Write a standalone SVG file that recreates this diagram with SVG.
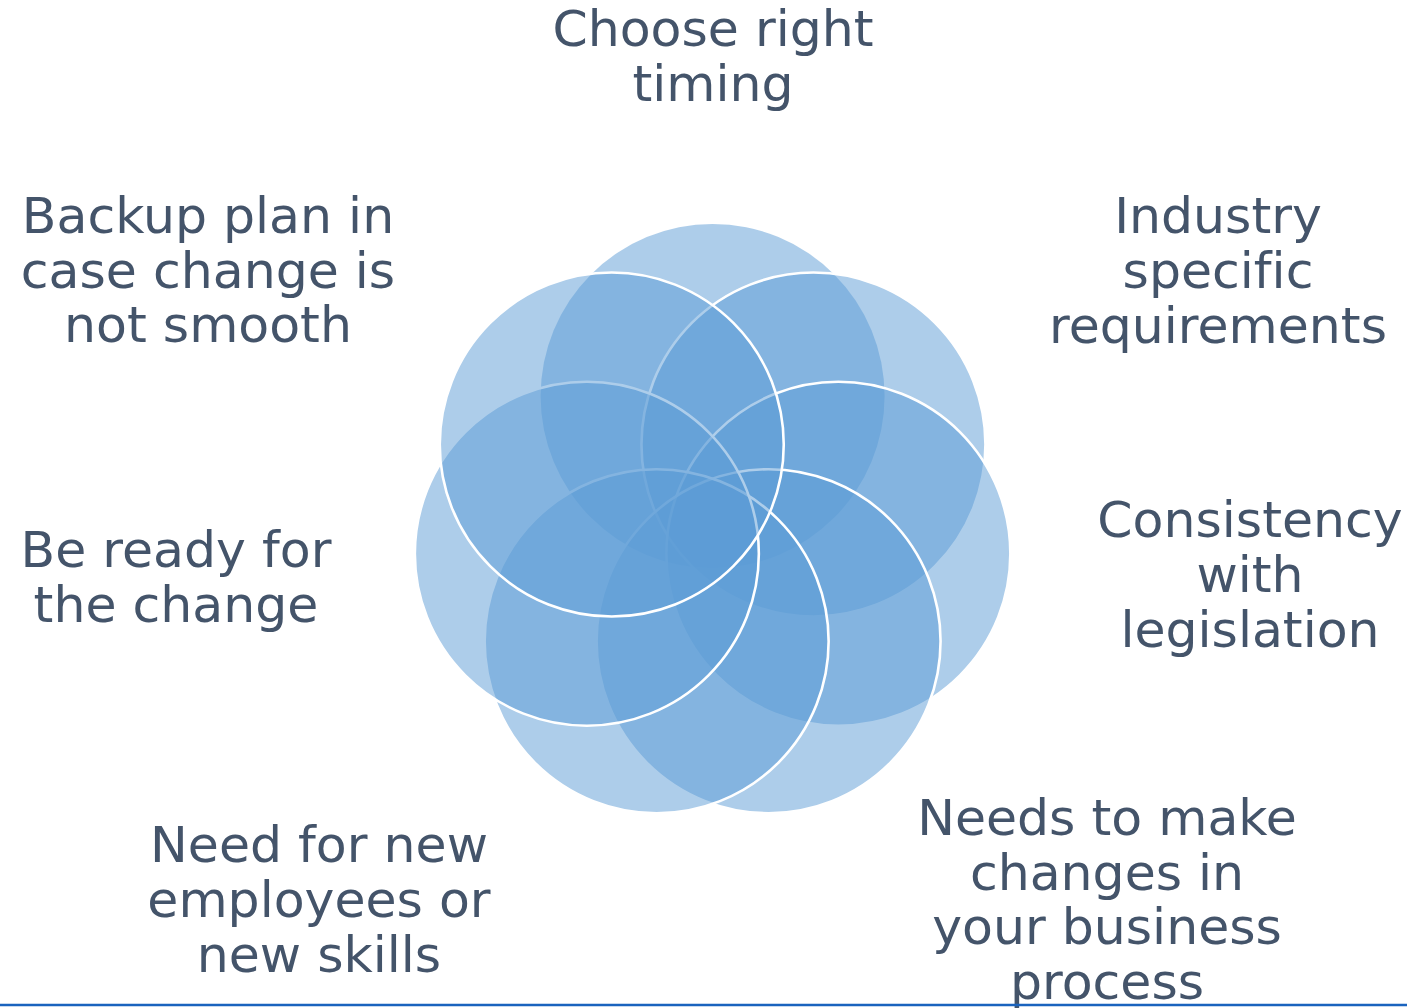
<svg xmlns="http://www.w3.org/2000/svg" width="1407" height="1008" viewBox="0 0 1407 1008">
<style>
.c{fill:#5b9bd5;fill-opacity:0.5;stroke:#ffffff;stroke-width:2.6}
.c0{stroke:none}
.t{font-family:"DejaVu Sans",Verdana,sans-serif;font-size:50.5px;fill:#44546a;text-anchor:middle;font-variant-ligatures:none}
</style>
<rect width="1407" height="1008" fill="#ffffff"/>
<g id="circles">
<circle id="c1" class="c c0" cx="712.6" cy="396" r="172"/>
<circle id="c2" class="c" cx="813.45" cy="444.57" r="172"/>
<circle id="c3" class="c" cx="838.36" cy="553.7" r="172"/>
<circle id="c4" class="c" cx="768.57" cy="641.23" r="172"/>
<circle id="c5" class="c" cx="656.63" cy="641.23" r="172"/>
<circle id="c6" class="c" cx="586.84" cy="553.7" r="172"/>
<circle id="c7" class="c" cx="611.75" cy="444.57" r="172"/>
</g>
<g id="label-timing"><text class="t" x="713" y="46">Choose right<tspan x="713" y="101">timing</tspan></text></g>
<g id="label-industry"><text class="t" x="1218" y="233">Industry<tspan x="1218" y="288">specific</tspan><tspan x="1218" y="343">requirements</tspan></text></g>
<g id="label-legislation"><text class="t" x="1250" y="537">Consistency<tspan x="1250" y="592">with</tspan><tspan x="1250" y="647">legislation</tspan></text></g>
<g id="label-process"><text class="t" x="1107" y="835">Needs to make<tspan x="1107" y="890">changes in</tspan><tspan x="1107" y="944">your business</tspan><tspan x="1107" y="999">process</tspan></text></g>
<g id="label-employees"><text class="t" x="319" y="862">Need for new<tspan x="319" y="917">employees or</tspan><tspan x="319" y="972">new skills</tspan></text></g>
<g id="label-ready"><text class="t" x="176" y="567">Be ready for<tspan x="176" y="622">the change</tspan></text></g>
<g id="label-backup"><text class="t" x="208" y="233">Backup plan in<tspan x="208" y="288">case change is</tspan><tspan x="208" y="342">not smooth</tspan></text></g>
<line x1="0" y1="1005" x2="1407" y2="1005" stroke="#1a63be" stroke-width="2.6"/>
</svg>
